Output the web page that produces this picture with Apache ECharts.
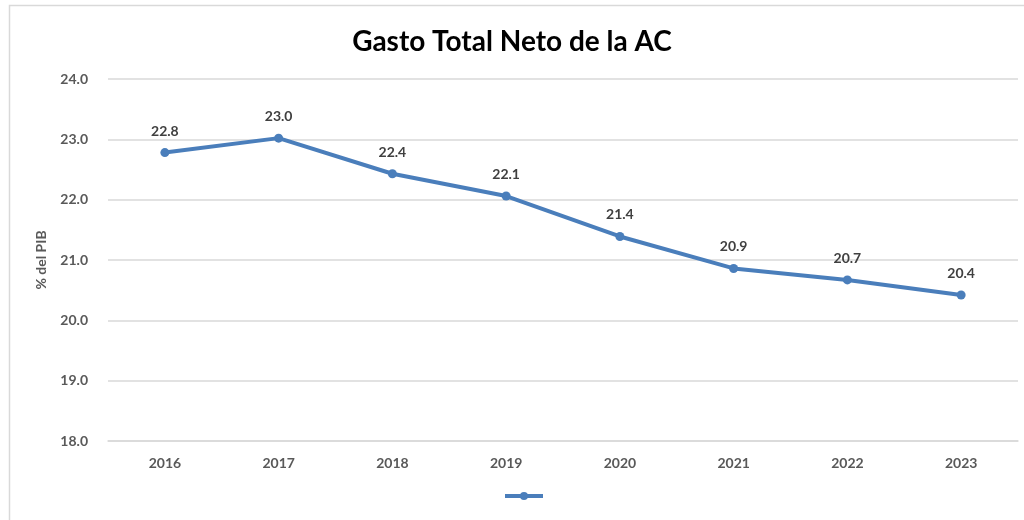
<!DOCTYPE html>
<html>
<head>
<meta charset="utf-8">
<script src="https://cdn.jsdelivr.net/npm/echarts@6/dist/echarts.min.js"></script>
<style>html,body{margin:0;padding:0;background:#fff}#c{width:1024px;height:520px}</style>
</head>
<body>
<div id="c"></div>
<script>
const years = ['2016','2017','2018','2019','2020','2021','2022','2023'];
const gastoTotal = [22.78, 23.02, 22.43, 22.06, 21.39, 20.86, 20.67, 20.42];
const yTicks = { min: 18, max: 24, interval: 1 };
const titleText = 'Gasto Total Neto de la AC';
const yName = '% del PIB';

const chart = echarts.init(document.getElementById('c'));
chart.setOption({
  animation: false,
  backgroundColor: '#ffffff',
  graphic: [{
    type: 'rect', z: -1,
    shape: { x: 9.5, y: 5.5, width: 1200, height: 700 },
    style: { fill: 'none', stroke: '#d9d9d9', lineWidth: 1.5 }
  }],
  title: {
    text: titleText, left: 'center', top: 23,
    textStyle: { fontFamily: 'Lato', fontWeight: 'bold', fontSize: 28, color: '#000' }
  },
  grid: { left: 108, right: 6, top: 79, bottom: 79, containLabel: false },
  legend: {
    bottom: 15, left: 498,
    itemWidth: 38, itemHeight: 10, itemGap: 0,
    lineStyle: { width: 4 },
    formatter: () => '',
    data: ['Gasto']
  },
  xAxis: {
    type: 'category', data: years, boundaryGap: true,
    axisLine: { show: true, lineStyle: { color: '#d9d9d9', width: 1.5 } },
    axisTick: { show: false },
    axisLabel: { margin: 15, fontFamily: 'Lato', fontWeight: 'bold', fontSize: 14, color: '#595959' }
  },
  yAxis: {
    type: 'value', min: yTicks.min, max: yTicks.max, interval: yTicks.interval,
    name: yName, nameLocation: 'middle', nameGap: 60, nameRotate: 90,
    nameTextStyle: { fontFamily: 'Lato', fontWeight: 'bold', fontSize: 14, color: '#595959' },
    axisLine: { show: false }, axisTick: { show: false },
    splitLine: { lineStyle: { color: '#d9d9d9', width: 1.5 } },
    axisLabel: { margin: 20, fontFamily: 'Lato', fontWeight: 'bold', fontSize: 14, color: '#595959',
      formatter: v => v.toFixed(1) }
  },
  series: [{
    name: 'Gasto', type: 'line', data: gastoTotal,
    color: '#4a7ebb',
    lineStyle: { width: 4, color: '#4a7ebb' },
    symbol: 'circle', symbolSize: 9,
    itemStyle: { color: '#4a7ebb' },
    label: { show: true, position: 'top', distance: 10,
      fontFamily: 'Lato', fontWeight: 'bold', fontSize: 14, color: '#404040',
      formatter: p => p.value.toFixed(1) }
  }]
});
</script>
</body>
</html>
